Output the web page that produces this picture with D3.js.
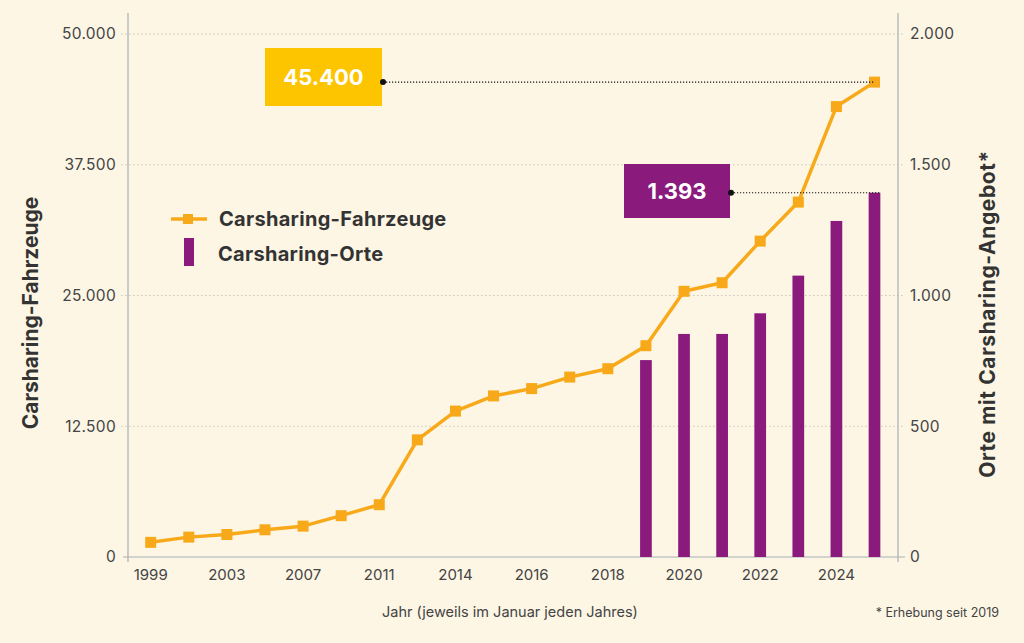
<!DOCTYPE html>
<html>
<head>
<meta charset="utf-8">
<script src="https://cdn.jsdelivr.net/npm/d3@7"></script>
<style>
  html, body { margin: 0; padding: 0; background: #fdf6e4; }
  svg { display: block; font-family: Inter, "Noto Sans", sans-serif; }
</style>
</head>
<body>
<script>
// Carsharing in Deutschland -- line (Fahrzeuge) + bars (Orte)

//data
var years = ["1999", "2001", "2003", "2005", "2007", "2009", "2011", "2013", "2014", "2015",
  "2016", "2017", "2018", "2019", "2020", "2021", "2022", "2023", "2024", "2025"];
var vehicles = [1400, 1900, 2150, 2600, 2950, 3950, 5000, 11200, 13950, 15400,
  16100, 17200, 18000, 20200, 25400, 26220, 30200, 33930, 43060, 45400];
var placeYears = ["2019", "2020", "2021", "2022", "2023", "2024", "2025"];
var places = [753, 853, 853, 932, 1076, 1285, 1393];
var xLabels = ["1999", "2003", "2007", "2011", "2014", "2016", "2018", "2020", "2022", "2024"];
var leftTicks = [0, 12500, 25000, 37500, 50000];
var rightTicks = [0, 500, 1000, 1500, 2000];

var width = 1024, height = 643;
var de = d3.formatLocale({decimal: ",", thousands: ".", grouping: [3], currency: ["", " €"]});
var fmt = de.format(",");

var svg = d3.select("body").append("svg")
  .attr("width", width)
  .attr("height", height);

svg.append("rect").attr("width", width).attr("height", height).attr("fill", "#fdf6e4");

//scales
var x = d3.scalePoint().domain(years).range([150.7, 874.5]);
var yL = d3.scaleLinear().domain([0, 50000]).range([557, 34]);
var yR = d3.scaleLinear().domain([0, 2000]).range([557, 34]);

var plotLeft = 128, plotRight = 898;

//gridlines
svg.append("g").selectAll("line")
  .data(leftTicks.filter(function(d){ return d > 0; }))
  .enter().append("line")
  .attr("x1", 121).attr("x2", 905)
  .attr("y1", function(d){ return yL(d); })
  .attr("y2", function(d){ return yL(d); })
  .attr("stroke", "#c9c6bd")
  .attr("stroke-width", 1)
  .attr("stroke-dasharray", "1.5,2.5");

//axis lines
svg.append("line").attr("x1", plotLeft).attr("x2", plotLeft).attr("y1", 13).attr("y2", 562)
  .attr("stroke", "#a9b0b5").attr("stroke-width", 1.2);
svg.append("line").attr("x1", plotRight).attr("x2", plotRight).attr("y1", 13).attr("y2", 562)
  .attr("stroke", "#a9b0b5").attr("stroke-width", 1.2);
svg.append("line").attr("x1", 123).attr("x2", 905).attr("y1", yL(0)).attr("y2", yL(0))
  .attr("stroke", "#a9b0b5").attr("stroke-width", 1.2);

//tick labels
svg.append("g").selectAll("text")
  .data(leftTicks).enter().append("text")
  .attr("x", 116).attr("y", function(d){ return yL(d); })
  .attr("dy", "0.35em").attr("text-anchor", "end")
  .attr("font-size", 15.5).attr("letter-spacing", 0.3).attr("fill", "#444")
  .text(function(d){ return fmt(d); });

svg.append("g").selectAll("text")
  .data(rightTicks).enter().append("text")
  .attr("x", 910).attr("y", function(d){ return yR(d); })
  .attr("dy", "0.35em").attr("text-anchor", "start")
  .attr("font-size", 15.5).attr("letter-spacing", 0.3).attr("fill", "#444")
  .text(function(d){ return fmt(d); });

svg.append("g").selectAll("text")
  .data(xLabels).enter().append("text")
  .attr("x", function(d){ return x(d); }).attr("y", 580)
  .attr("text-anchor", "middle")
  .attr("font-size", 15).attr("fill", "#444")
  .text(function(d){ return d; });

//bars
var barW = 11.7;
svg.append("g").selectAll("rect")
  .data(places).enter().append("rect")
  .attr("x", function(d, i){ return x(placeYears[i]) - barW / 2; })
  .attr("y", function(d){ return yR(d); })
  .attr("width", barW)
  .attr("height", function(d){ return yR(0) - yR(d); })
  .attr("fill", "#8a1b7d");

//line
var line = d3.line()
  .x(function(d, i){ return x(years[i]); })
  .y(function(d){ return yL(d); });

svg.append("path").datum(vehicles)
  .attr("d", line)
  .attr("fill", "none")
  .attr("stroke", "#f8a91a")
  .attr("stroke-width", 3.5)
  .attr("stroke-linejoin", "round");

var m = 11;
svg.append("g").selectAll("rect")
  .data(vehicles).enter().append("rect")
  .attr("x", function(d, i){ return x(years[i]) - m / 2; })
  .attr("y", function(d){ return yL(d) - m / 2; })
  .attr("width", m).attr("height", m)
  .attr("fill", "#f8a91a");

//annotations
var lastV = vehicles[vehicles.length - 1];
var lastP = places[places.length - 1];

function callout(x0, y0, w, h, cy, value, color, xEnd){
  svg.append("line").attr("x1", x0 + w + 1).attr("x2", xEnd)
    .attr("y1", cy).attr("y2", cy)
    .attr("stroke", "#111").attr("stroke-width", 1.2)
    .attr("stroke-dasharray", "1.2,1.8");
  svg.append("rect").attr("x", x0).attr("y", y0).attr("width", w).attr("height", h)
    .attr("fill", color);
  svg.append("circle").attr("cx", x0 + w + 1).attr("cy", cy).attr("r", 3).attr("fill", "#111");
  svg.append("text").attr("x", x0 + w / 2).attr("y", y0 + h / 2).attr("dy", "0.36em")
    .attr("text-anchor", "middle").attr("font-size", 22).attr("font-weight", 700)
    .attr("fill", "#fff").text(fmt(value));
}
callout(265, 48, 117, 58, yL(lastV), lastV, "#fdc400", x(years[years.length - 1]));
callout(624, 164, 106, 54, yR(lastP), lastP, "#8a1b7d", x(placeYears[placeYears.length - 1]) + barW / 2);

//legend
var lg = svg.append("g");
lg.append("line").attr("x1", 171).attr("x2", 207).attr("y1", 219).attr("y2", 219)
  .attr("stroke", "#f8a91a").attr("stroke-width", 3.5);
lg.append("rect").attr("x", 183).attr("y", 214).attr("width", 10).attr("height", 10).attr("fill", "#f8a91a");
lg.append("text").attr("x", 219).attr("y", 219).attr("dy", "0.36em")
  .attr("font-size", 20).attr("font-weight", 700).attr("letter-spacing", 0.3).attr("fill", "#333")
  .text("Carsharing-Fahrzeuge");
lg.append("rect").attr("x", 184).attr("y", 238).attr("width", 10).attr("height", 28).attr("fill", "#8a1b7d");
lg.append("text").attr("x", 218).attr("y", 254).attr("dy", "0.36em")
  .attr("font-size", 20).attr("font-weight", 700).attr("letter-spacing", 0.3).attr("fill", "#333")
  .text("Carsharing-Orte");

//axis titles
svg.append("text")
  .attr("transform", "translate(30,313) rotate(-90)")
  .attr("dy", "0.36em").attr("text-anchor", "middle")
  .attr("font-size", 21).attr("font-weight", 700).attr("fill", "#333")
  .text("Carsharing-Fahrzeuge");
svg.append("text")
  .attr("transform", "translate(987,314) rotate(-90)")
  .attr("dy", "0.36em").attr("text-anchor", "middle")
  .attr("font-size", 21).attr("font-weight", 700).attr("letter-spacing", 0.6).attr("fill", "#333")
  .text("Orte mit Carsharing-Angebot*");

svg.append("text").attr("x", 510).attr("y", 617)
  .attr("text-anchor", "middle").attr("font-size", 14.5).attr("fill", "#444")
  .text("Jahr (jeweils im Januar jeden Jahres)");
svg.append("text").attr("x", 999).attr("y", 617)
  .attr("text-anchor", "end").attr("font-size", 12.5).attr("fill", "#444")
  .text("* Erhebung seit 2019");
</script>
</body>
</html>
